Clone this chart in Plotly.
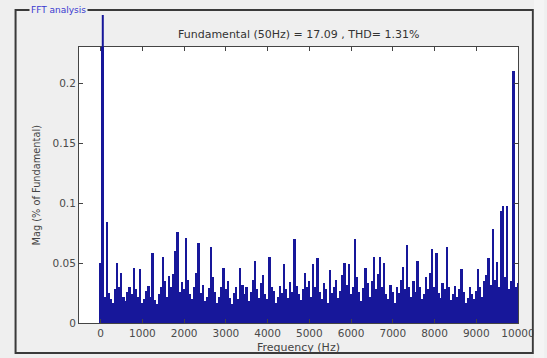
import plotly.graph_objects as go

# Frequency bins (Hz), 50 Hz resolution
freq = [i * 50 for i in range(201)]

# Magnitude (% of fundamental)
mag = [
    0.050, 100.0, 0.022, 0.084, 0.025, 0.020, 0.017, 0.028, 0.050, 0.030,
    0.042, 0.022, 0.018, 0.026, 0.030, 0.024, 0.046, 0.028, 0.022, 0.045,
    0.017, 0.020, 0.027, 0.031, 0.022, 0.058, 0.019, 0.016, 0.024, 0.030,
    0.055, 0.035, 0.022, 0.039, 0.030, 0.041, 0.060, 0.076, 0.026, 0.034,
    0.028, 0.071, 0.036, 0.024, 0.020, 0.030, 0.042, 0.067, 0.025, 0.032,
    0.018, 0.022, 0.029, 0.063, 0.038, 0.026, 0.017, 0.022, 0.030, 0.046,
    0.028, 0.035, 0.021, 0.016, 0.025, 0.030, 0.020, 0.046, 0.032, 0.024,
    0.030, 0.018, 0.026, 0.036, 0.052, 0.028, 0.021, 0.033, 0.040, 0.024,
    0.020, 0.055, 0.030, 0.027, 0.017, 0.022, 0.031, 0.025, 0.049, 0.028,
    0.021, 0.034, 0.026, 0.070, 0.031, 0.024, 0.019, 0.028, 0.042, 0.030,
    0.035, 0.022, 0.049, 0.030, 0.054, 0.026, 0.020, 0.033, 0.028, 0.017,
    0.044, 0.025, 0.030, 0.036, 0.021, 0.027, 0.040, 0.050, 0.032, 0.049,
    0.024, 0.030, 0.070, 0.038, 0.026, 0.018, 0.029, 0.046, 0.033, 0.022,
    0.035, 0.055, 0.028, 0.041, 0.055, 0.030, 0.050, 0.024, 0.020, 0.032,
    0.026, 0.017, 0.030, 0.025, 0.036, 0.047, 0.028, 0.065, 0.030, 0.022,
    0.035, 0.026, 0.052, 0.030, 0.020, 0.024, 0.038, 0.028, 0.042, 0.062,
    0.030, 0.058, 0.025, 0.021, 0.033, 0.028, 0.063, 0.030, 0.019, 0.024,
    0.031, 0.022, 0.028, 0.045, 0.026, 0.017, 0.021, 0.030, 0.024, 0.020,
    0.027, 0.045, 0.030, 0.022, 0.035, 0.040, 0.054, 0.032, 0.078, 0.036,
    0.051, 0.030, 0.093, 0.0975, 0.038, 0.0975, 0.028, 0.035, 0.210, 0.030,
    0.033,
]

x_ticks = [0, 1000, 2000, 3000, 4000, 5000, 6000, 7000, 8000, 9000, 10000]
y_ticks = [0, 0.05, 0.1, 0.15, 0.2]
y_tick_labels = ["0", "0.05", "0.1", "0.15", "0.2"]

title_text = "Fundamental (50Hz) = 17.09 , THD= 1.31%"
panel_text = "FFT analysis"

FONT = "DejaVu Sans, Verdana, sans-serif"
BAR = "#17179a"
BG = "#efefef"

fig = go.Figure()
fig.add_trace(go.Bar(x=freq, y=mag, marker=dict(color=BAR, line=dict(width=0)),
                     width=44, hoverinfo="x+y"))

axis_common = dict(showline=True, linecolor="#444", linewidth=1, mirror="ticks",
                   ticks="inside", ticklen=4, tickcolor="#444", showgrid=False,
                   zeroline=False, tickfont=dict(family=FONT, size=10.5, color="#4a4a4a"))

fig.update_layout(
    width=547, height=358,
    margin=dict(l=79, r=25, t=47, b=35),
    paper_bgcolor=BG, plot_bgcolor="white",
    showlegend=False,
    xaxis=dict(range=[-520, 10000], tickvals=x_ticks, ticktext=[str(v) for v in x_ticks], **axis_common),
    yaxis=dict(range=[0, 0.23], tickvals=y_ticks, ticktext=y_tick_labels, **axis_common),
    bargap=0,
)

# fundamental line extending above the axes (as in the original)
fig.add_shape(type="line", xref="x", yref="paper", x0=freq[1], x1=freq[1], y0=1, y1=1.116,
              line=dict(color=BAR, width=2))

# panel frame
fig.add_shape(type="rect", xref="paper", yref="paper", x0=-0.1445, x1=1.0339, y0=-0.1087, y1=1.134,
              line=dict(color="#3a3a3a", width=2), layer="above")
# cover beyond right frame edge
fig.add_shape(type="rect", xref="paper", yref="paper", x0=1.0362, x1=1.06, y0=-0.15, y1=1.2,
              line=dict(width=0), fillcolor="#f4f4f4", layer="above")

fig.add_annotation(text=panel_text, xref="paper", yref="paper", x=-0.0474, y=1.134,
                   xanchor="center", yanchor="middle", showarrow=False, bgcolor=BG,
                   font=dict(family=FONT, size=9, color="#3a3ad0"), borderpad=1)
fig.add_annotation(text=title_text, xref="paper", yref="paper", x=0.499, y=1.047,
                   xanchor="center", yanchor="middle", showarrow=False,
                   font=dict(family=FONT, size=11, color="#333"))
fig.add_annotation(text="Mag (% of Fundamental)", xref="paper", yref="paper", x=-0.099, y=0.5,
                   xanchor="center", yanchor="middle", textangle=-90, showarrow=False,
                   font=dict(family=FONT, size=9.8, color="#444"))
fig.add_annotation(text="Frequency (Hz)", xref="paper", yref="paper", x=0.499, y=-0.087,
                   xanchor="center", yanchor="middle", showarrow=False,
                   font=dict(family=FONT, size=11, color="#444"))

fig.write_html("out.html")
